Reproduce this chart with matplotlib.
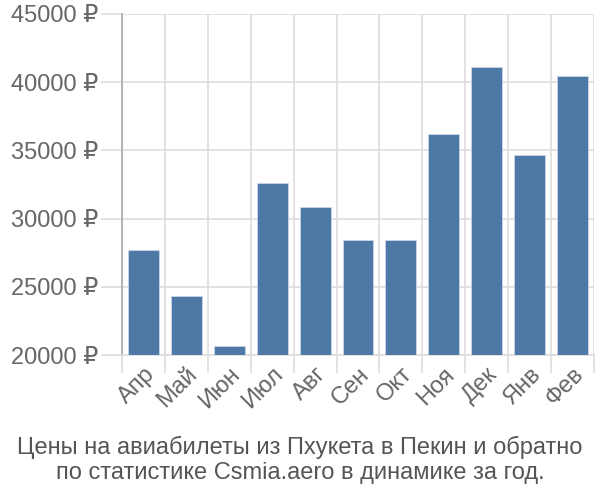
import numpy as np
import matplotlib
matplotlib.use("Agg")
import matplotlib.pyplot as plt

months = ["Апр", "Май", "Июн", "Июл", "Авг", "Сен", "Окт", "Ноя", "Дек", "Янв", "Фев"]
prices = [27700, 24330, 20660, 32610, 30850, 28430, 28430, 36180, 41090, 34660, 40450]
yticks = [20000, 25000, 30000, 35000, 40000, 45000]
title = "Цены на авиабилеты из Пхукета в Пекин и обратно\nпо статистике Csmia.aero в динамике за год."

plt.rcParams['font.family'] = ['Liberation Sans', 'DejaVu Sans']


def main():
    fig = plt.figure(figsize=(6, 5), dpi=100)
    ax = fig.add_axes([0.2033, 0.29, 0.7867, 0.682])
    x = np.arange(len(months))
    ax.bar(x, prices, width=0.72, color="#4e79a7", edgecolor="#c9d6e6",
           linewidth=0.6, zorder=3)

    ax.set_xlim(-0.5, len(months) - 0.5)
    ax.set_ylim(20000, 45000)

    ax.set_yticks(yticks)
    ax.set_yticklabels([f"{v} ₽" for v in yticks], fontsize=17, color="#666666")
    ax.tick_params(axis="y", length=15, color="#dddddd", width=1.2, pad=2)

    ax.set_xticks(x)
    ax.set_xticklabels(months, rotation=45, ha="right", rotation_mode="anchor",
                       fontsize=17, color="#666666")
    ax.tick_params(axis="x", which="major", length=0, pad=6)
    ax.set_xticks(np.arange(-0.5, len(months)), minor=True)
    ax.tick_params(axis="x", which="minor", length=13, color="#dddddd", width=1.2)

    ax.grid(axis="y", color="#dddddd", linewidth=1.2, zorder=0)
    ax.grid(axis="x", which="minor", color="#dddddd", linewidth=1.2, zorder=0)

    for side in ["top", "right"]:
        ax.spines[side].set_visible(False)
    ax.spines["left"].set_color("#aaaaaa")
    ax.spines["bottom"].set_color("#dddddd")
    ax.spines["left"].set_linewidth(1.2)
    ax.spines["bottom"].set_linewidth(1.2)

    fig.text(0.5, 0.08, title, ha="center", va="center", fontsize=17,
             color="#555555", linespacing=1.15)

    fig.savefig("out.png", dpi=100)


if __name__ == "__main__":
    main()
